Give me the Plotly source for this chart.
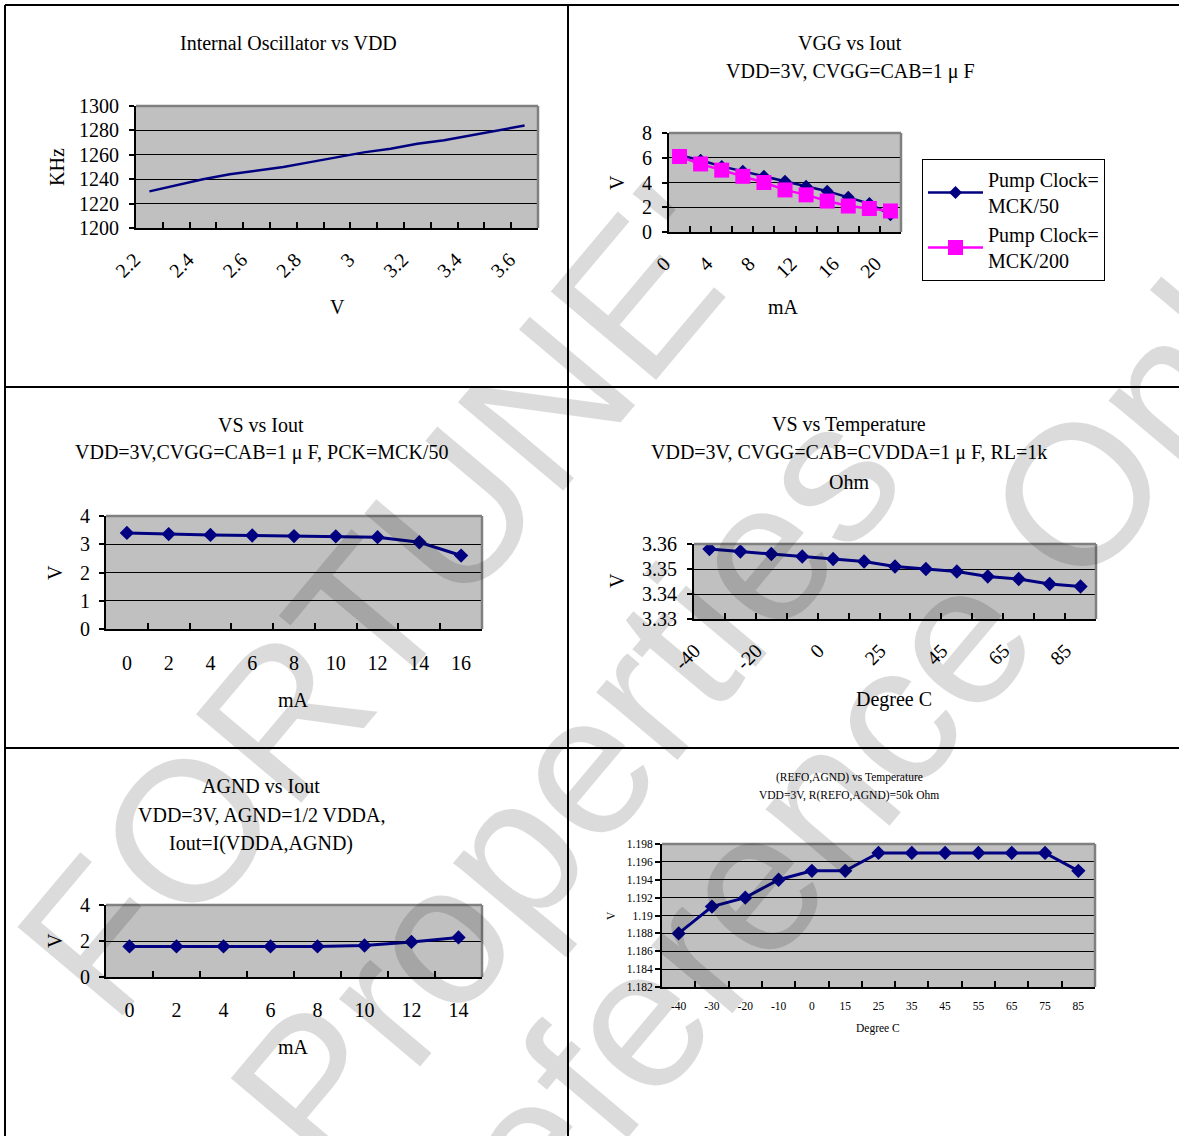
import plotly.graph_objects as go

W, H = 1179, 1136
SERIF = "Liberation Serif, Times New Roman, serif"
SANS = "Liberation Sans, Arial, sans-serif"
NAVY = "#000080"
MAGENTA = "#ff00ff"

# Internal oscillator frequency vs supply voltage
osc_vdd = ["2.2", "2.3", "2.4", "2.5", "2.6", "2.7", "2.8", "2.9",
           "3", "3.1", "3.2", "3.3", "3.4", "3.5", "3.6"]
osc_khz = [1230, 1235, 1240, 1244, 1247, 1250, 1254, 1258,
           1262, 1265, 1269, 1272, 1276, 1280, 1284]
osc_yticks = [1200, 1220, 1240, 1260, 1280, 1300]

# VGG vs output current, two pump clocks
vgg_ma = ["0", "2", "4", "6", "8", "10", "12", "14", "16", "18", "20"]
vgg_mck50 = [6.2, 5.8, 5.3, 4.9, 4.5, 4.1, 3.7, 3.3, 2.8, 2.3, 1.4]
vgg_mck200 = [6.1, 5.5, 5.0, 4.5, 4.0, 3.4, 3.0, 2.5, 2.1, 1.9, 1.7]
vgg_yticks = [0, 2, 4, 6, 8]

# VS vs output current
vs_ma = ["0", "2", "4", "6", "8", "10", "12", "14", "16"]
vs_v = [3.4, 3.36, 3.33, 3.31, 3.29, 3.28, 3.25, 3.07, 2.6]
vs_yticks = [0, 1, 2, 3, 4]

# Temperature points shared by the two temperature sweeps
temp_c = ["-40", "-30", "-20", "-10", "0", "15", "25",
          "35", "45", "55", "65", "75", "85"]

# VS vs temperature
vs_temp_v = [3.358, 3.357, 3.356, 3.355, 3.354, 3.353, 3.351,
             3.350, 3.349, 3.347, 3.346, 3.344, 3.343]
vs_temp_yticks = [3.33, 3.34, 3.35, 3.36]

# AGND vs output current
agnd_ma = ["0", "2", "4", "6", "8", "10", "12", "14"]
agnd_v = [1.7, 1.7, 1.7, 1.7, 1.7, 1.75, 1.95, 2.2]
agnd_yticks = [0, 2, 4]

# (REFO, AGND) voltage vs temperature
refo_v = [1.188, 1.191, 1.192, 1.194, 1.195, 1.195, 1.197,
          1.197, 1.197, 1.197, 1.197, 1.197, 1.195]
refo_yticks = [1.182, 1.184, 1.186, 1.188, 1.19, 1.192, 1.194, 1.196, 1.198]


def px(x):
    return x / W


def py(y):
    return 1 - y / H


def x_axis(left, right, cats, step, angle, size, standoff, anchor, shift=0):
    ticktext = [c if i % step == 0 else "" for i, c in enumerate(cats)]
    return dict(
        domain=[px(left), px(right)], anchor=anchor, type="category",
        range=[-0.5, len(cats) - 0.5], tickmode="array", tickvals=cats,
        ticktext=ticktext, tickson="boundaries", ticks="inside", ticklen=6,
        tickwidth=1.5, tickcolor="black", showline=True, linecolor="black",
        linewidth=2, showgrid=False, zeroline=False, tickangle=angle,
        tickfont=dict(family=SERIF, size=size, color="black"),
        ticklabelstandoff=standoff, ticklabelshift=shift,
        fixedrange=True, automargin=False,
    )


def y_axis(top, bottom, ticks, size, standoff, anchor):
    return dict(
        domain=[py(bottom), py(top)], anchor=anchor,
        range=[ticks[0], ticks[-1]], tickmode="array", tickvals=ticks,
        ticktext=[f"{t:g}" for t in ticks], ticks="outside", ticklen=5,
        tickwidth=1.5, tickcolor="black", showline=True, linecolor="black",
        linewidth=2, showgrid=True, gridcolor="black", gridwidth=1,
        zeroline=False, tickfont=dict(family=SERIF, size=size, color="black"),
        ticklabelstandoff=standoff, fixedrange=True, automargin=False,
    )


fig = go.Figure()

line_style = dict(color=NAVY, width=3)
diamond = dict(symbol="diamond", size=11, color=NAVY)

fig.add_trace(go.Scatter(x=osc_vdd, y=osc_khz, mode="lines",
                         line=dict(color=NAVY, width=2.5),
                         xaxis="x", yaxis="y", showlegend=False))
fig.add_trace(go.Scatter(x=vgg_ma, y=vgg_mck50, mode="lines+markers",
                         name="Pump Clock=<br>MCK/50",
                         line=dict(color=NAVY, width=2.5),
                         marker=dict(symbol="diamond", size=10, color=NAVY),
                         xaxis="x2", yaxis="y2"))
fig.add_trace(go.Scatter(x=vgg_ma, y=vgg_mck200, mode="lines+markers",
                         name="Pump Clock=<br>MCK/200",
                         line=dict(color=MAGENTA, width=2.5),
                         marker=dict(symbol="square", size=15, color=MAGENTA),
                         xaxis="x2", yaxis="y2"))
fig.add_trace(go.Scatter(x=vs_ma, y=vs_v, mode="lines+markers",
                         line=line_style, marker=diamond,
                         xaxis="x3", yaxis="y3", showlegend=False))
fig.add_trace(go.Scatter(x=temp_c, y=vs_temp_v, mode="lines+markers",
                         line=line_style, marker=diamond,
                         xaxis="x4", yaxis="y4", showlegend=False))
fig.add_trace(go.Scatter(x=agnd_ma, y=agnd_v, mode="lines+markers",
                         line=line_style, marker=diamond,
                         xaxis="x5", yaxis="y5", showlegend=False))
fig.add_trace(go.Scatter(x=temp_c, y=refo_v, mode="lines+markers",
                         line=line_style, marker=diamond,
                         xaxis="x6", yaxis="y6", showlegend=False))

layout = dict(
    width=W, height=H, margin=dict(l=0, r=0, t=0, b=0, pad=0),
    paper_bgcolor="white", plot_bgcolor="#c0c0c0",
    font=dict(family=SERIF, color="black"),
    xaxis=x_axis(136, 538, osc_vdd, 2, -45, 20, 10, "y", -15),
    yaxis=y_axis(106, 228, osc_yticks, 20, 6, "x"),
    xaxis2=x_axis(669, 901, vgg_ma, 2, -45, 20, 10, "y2", -15),
    yaxis2=y_axis(133, 232, vgg_yticks, 20, 6, "x2"),
    xaxis3=x_axis(106, 482, vs_ma, 1, 0, 20, 15, "y3"),
    yaxis3=y_axis(516, 629, vs_yticks, 20, 5, "x3"),
    xaxis4=x_axis(694, 1096, temp_c, 2, -45, 20, 10, "y4", -15),
    yaxis4=y_axis(544, 619, vs_temp_yticks, 20, 6, "x4"),
    xaxis5=x_axis(106, 482, agnd_ma, 1, 0, 20, 14, "y5"),
    yaxis5=y_axis(905, 977, agnd_yticks, 20, 5, "x5"),
    xaxis6=x_axis(662, 1095, temp_c, 1, 0, 11.5, 7, "y6"),
    yaxis6=y_axis(844, 987, refo_yticks, 11.5, 0, "x6"),
    showlegend=True,
    legend=dict(x=px(922), y=py(159), xanchor="left", yanchor="top",
                bgcolor="white", bordercolor="black", borderwidth=1,
                font=dict(family=SERIF, size=20, color="black"),
                itemwidth=55, tracegroupgap=5),
)

shapes = []
# table rules separating the six panels
for y0 in (5, 387, 748):
    shapes.append(dict(type="line", xref="paper", yref="paper",
                       x0=px(5), x1=1, y0=py(y0), y1=py(y0),
                       line=dict(color="black", width=2)))
for x0 in (5, 568):
    shapes.append(dict(type="line", xref="paper", yref="paper",
                       x0=px(x0), x1=px(x0), y0=py(5), y1=0,
                       line=dict(color="black", width=2)))
# grey frame on the top and right of each plot area
for k in range(1, 7):
    sfx = "" if k == 1 else str(k)
    xr, yr = f"x{sfx} domain", f"y{sfx} domain"
    shapes.append(dict(type="line", xref=xr, yref=yr, x0=0, x1=1, y0=1, y1=1,
                       line=dict(color="#808080", width=2.5)))
    shapes.append(dict(type="line", xref=xr, yref=yr, x0=1, x1=1, y0=0, y1=1,
                       line=dict(color="#808080", width=2.5)))
layout["shapes"] = shapes

annotations = []


def label(x, y, s, size=20, angle=0, family=SERIF, color="black"):
    annotations.append(dict(
        x=px(x), y=py(y), xref="paper", yref="paper", text=s,
        showarrow=False, textangle=angle, xanchor="center", yanchor="middle",
        font=dict(family=family, size=size, color=color)))


# panel titles
label(288, 43, "Internal Oscillator vs VDD")
label(850, 43, "VGG vs Iout")
label(850, 71, "VDD=3V, CVGG=CAB=1 μ F")
label(261, 425, "VS vs Iout")
label(261, 453, "VDD=3V,CVGG=CAB=1 μ F, PCK=MCK/50")
label(849, 425, "VS vs Temperature")
label(849, 453, "VDD=3V, CVGG=CAB=CVDDA=1 μ F, RL=1k")
label(849, 482, "Ohm")
label(261, 786, "AGND vs Iout")
label(261, 815, "VDD=3V, AGND=1/2 VDDA,")
label(261, 843, "Iout=I(VDDA,AGND)")
label(849, 777, "(REFO,AGND) vs Temperature", size=11.5)
label(849, 795, "VDD=3V, R(REFO,AGND)=50k Ohm", size=11.5)

# axis titles
label(57, 167, "KHz", angle=-90)
label(337, 307, "V")
label(617, 183, "V", angle=-90)
label(784, 307, "mA")
label(55, 573, "V", angle=-90)
label(293, 700, "mA")
label(617, 581, "V", angle=-90)
label(894, 699, "Degree C")
label(55, 941, "V", angle=-90)
label(293, 1047, "mA")
label(611, 916, "V", size=11.5, angle=-90)
label(878, 1028, "Degree C", size=11.5)

# diagonal watermark across the page
WM = "rgba(0,0,0,0.14)"
label(380, 600, "FORTUNE'", size=200, angle=-50, family=SANS, color=WM)
label(565, 785, "Properties", size=200, angle=-50, family=SANS, color=WM)
label(845, 770, "Reference Only", size=200, angle=-50, family=SANS, color=WM)

layout["annotations"] = annotations
fig.update_layout(**layout)

fig.write_html("out.html")
